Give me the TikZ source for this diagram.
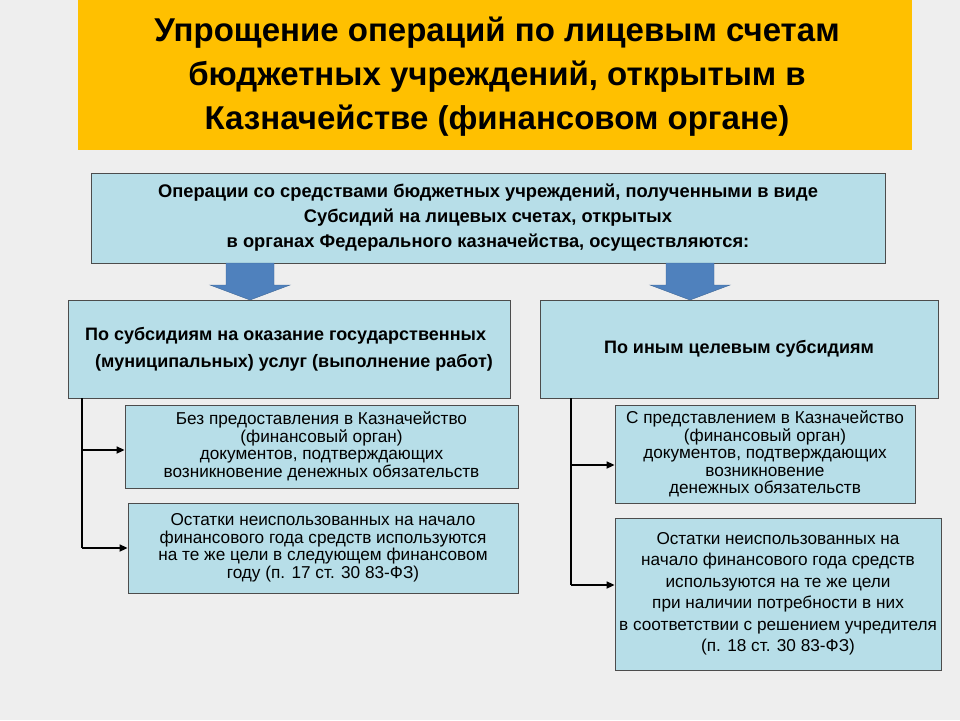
\documentclass[tikz,border=0pt]{standalone}
\usepackage{fontspec}
\setmainfont{Liberation Sans}
\usetikzlibrary{arrows.meta,shapes.arrows}
\definecolor{bg}{HTML}{EEEEEE}
\definecolor{ttl}{HTML}{FFC000}
\definecolor{lb}{HTML}{B7DEE8}
\definecolor{ar}{HTML}{4F81BD}
\tikzset{
 box/.style={draw=black!70,fill=lb,line width=0.8pt,align=center,inner sep=0pt},
 bt/.style={font=\fontsize{18}{27}\selectfont\bfseries},
 st/.style={font=\fontsize{17.2}{17.5}\selectfont},
 conn/.style={line width=1.6pt,-{Triangle[length=8pt,width=7pt]}},
 darr/.style={fill=ar,draw=ar!80!black}
}
\begin{document}
\begin{tikzpicture}[x=1pt,y=-1pt]
\fill[bg] (0,0) rectangle (960,720);
\useasboundingbox (0,0) rectangle (960,720);
\fill[ttl] (78,0) rectangle (912,150);
\node[font=\fontsize{33}{44}\selectfont\bfseries,align=center] (title) at (497,77) {Упрощение операций по лицевым счетам\\бюджетных учреждений, открытым в\\Казначействе (финансовом органе)};
\node[box,minimum width=794,minimum height=90,font=\fontsize{18.3}{25}\selectfont\bfseries] (top) at (488,218) {Операции со средствами бюджетных учреждений, полученными в виде\\Субсидий на лицевых счетах, открытых\\в органах Федерального казначейства, осуществляются:};
\fill[darr] (226,263) -- (274,263) -- (274,285) -- (290,285) -- (250,300) -- (210,285) -- (226,285) -- cycle;
\fill[darr] (666,263) -- (714,263) -- (714,285) -- (730,285) -- (690,300) -- (650,285) -- (666,285) -- cycle;
\node[box,minimum width=442,minimum height=98,bt,align=left] (L) at (289,349) {По субсидиям на оказание государственных\\\ \ (муниципальных) услуг (выполнение работ)};
\node[box,minimum width=398,minimum height=98,bt] (R) at (739,349) {По иным целевым субсидиям};
\node[box,minimum width=393,minimum height=83,st] (L1) at (321.5,446.5) {Без предоставления в Казначейство\\(финансовый орган)\\документов, подтверждающих\\возникновение денежных обязательств};
\node[box,minimum width=390,minimum height=90,st] (L2) at (323,548) {Остатки неиспользованных на начало\\финансового года средств используются\\на те же цели в следующем финансовом\\году (п. 17 ст. 30 83-ФЗ)};
\node[box,minimum width=300,minimum height=98,st] (R1) at (765,454) {С представлением в Казначейство\\(финансовый орган)\\документов, подтверждающих\\возникновение\\денежных обязательств};
\node[box,minimum width=326,minimum height=152,font=\fontsize{17.2}{21.5}\selectfont] (R2) at (778,594) {Остатки неиспользованных на\\начало финансового года средств\\используются на те же цели\\при наличии потребности в них\\в соответствии с решением учредителя\\(п. 18 ст. 30 83-ФЗ)};
\coordinate (l0) at (82,398);
\coordinate (r0) at (571,398);
\draw[line width=1.6pt] (l0) -- (82,548);
\draw[conn] (82,450) -- (L1.west|-82,450);
\draw[conn] (82,548) -- (L2.west|-82,548);
\draw[line width=1.6pt] (r0) -- (571,585);
\draw[conn] (571,465) -- (R1.west|-571,465);
\draw[conn] (571,585) -- (R2.west|-571,585);
\end{tikzpicture}
\end{document}
